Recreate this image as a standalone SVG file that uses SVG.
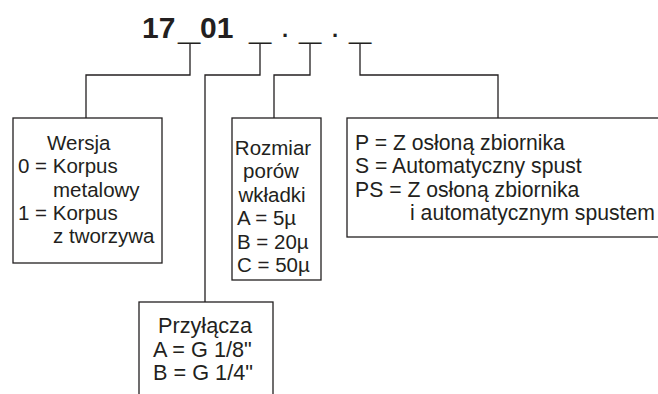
<svg xmlns="http://www.w3.org/2000/svg" width="658" height="394" viewBox="0 0 658 394">
<style>
.bg{fill:#ffffff}
.box{fill:#ffffff;stroke:#231f20;stroke-width:1.3}
.wire{fill:none;stroke:#231f20;stroke-width:1.3}
.t{font-family:"Liberation Sans",Arial,sans-serif;font-size:20.5px;fill:#231f20}
.tl{font-size:21.7px}
.tm{font-size:21.2px}
.ttl{font-family:"Liberation Sans",Arial,sans-serif;font-size:30px;font-weight:bold;fill:#231f20}
.us{font-size:40px}
.dot{font-size:22px}
</style>
<rect class="bg" x="0" y="0" width="658" height="394"/>
<g id="title">
<text class="ttl" y="38"><tspan x="142">17</tspan><tspan class="us" x="178" y="39">_</tspan><tspan x="200" y="38">01</tspan><tspan class="us" x="249" y="39">_</tspan><tspan class="dot" x="282" y="37">.</tspan><tspan class="us" x="299" y="39">_</tspan><tspan class="dot" x="332" y="37">.</tspan><tspan class="us" x="349" y="39">_</tspan></text>
</g>
<g id="connectors">
<polyline class="wire" points="190,43 190,75 86,75 86,118"/>
<polyline class="wire" points="260,43 260,75 205,75 205,302"/>
<polyline class="wire" points="310,43 310,75 274,75 274,118"/>
<polyline class="wire" points="360,43 360,75 498,75 498,118"/>
</g>
<g id="wersja">
<rect class="box" x="13" y="118" width="149" height="145"/>
<text class="t"><tspan x="47" y="150">Wersja</tspan><tspan x="18" y="173">0 = Korpus</tspan><tspan x="53" y="197">metalowy</tspan><tspan x="18" y="220">1 = Korpus</tspan><tspan x="53" y="243">z tworzywa</tspan></text>
</g>
<g id="rozmiar">
<rect class="box" x="232" y="118" width="89" height="162"/>
<text class="t"><tspan x="273" y="155" text-anchor="middle">Rozmiar</tspan><tspan x="271" y="178" text-anchor="middle">porów</tspan><tspan x="272" y="202" text-anchor="middle">wkładki</tspan><tspan x="237" y="225">A = 5µ</tspan><tspan x="237" y="249">B = 20µ</tspan><tspan x="237" y="272">C = 50µ</tspan></text>
</g>
<g id="opcje">
<rect class="box" x="347" y="118" width="320" height="119"/>
<text class="t tm"><tspan x="355" y="150">P = Z osłoną zbiornika</tspan><tspan x="355" y="173">S = Automatyczny spust</tspan><tspan x="355" y="197">PS = Z osłoną zbiornika</tspan><tspan x="410" y="220">i automatycznym spustem</tspan></text>
</g>
<g id="przylacza">
<rect class="box" x="139" y="302" width="134" height="100"/>
<text class="t tl"><tspan x="205" y="333" text-anchor="middle">Przyłącza</tspan><tspan x="153" y="357">A = G 1/8"</tspan><tspan x="153" y="380">B = G 1/4"</tspan></text>
</g>
</svg>
